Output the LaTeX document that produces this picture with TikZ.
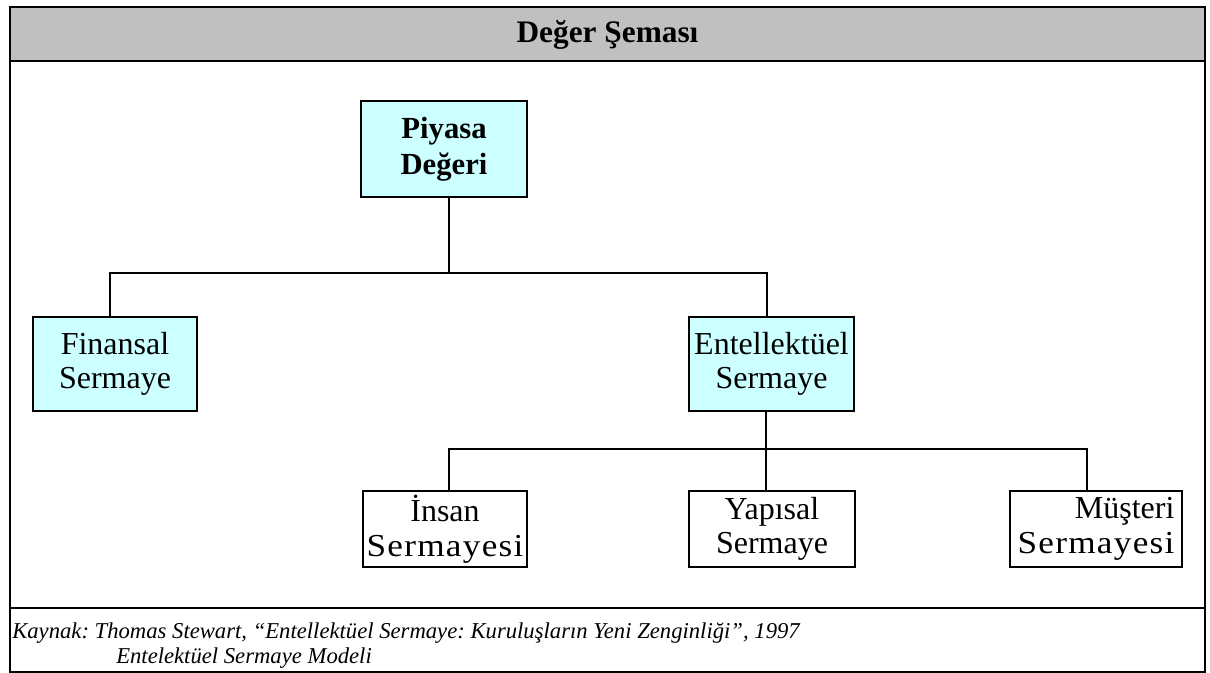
\documentclass[tikz,border=0pt]{standalone}
\usepackage{fontspec}
\usepackage{graphicx}
\setmainfont{Liberation Serif}
\frenchspacing
\definecolor{boxcyan}{HTML}{CCFFFF}
\definecolor{titlegray}{HTML}{C0C0C0}
\newcommand\spreadsermayesi{\scalebox{1.1}[1]{\makebox[107pt][s]{S\hfil e\hfil r\hfil m\hfil a\hfil y\hfil e\hfil s\hfil i}}}
\tikzset{
  frameline/.style={line width=2.2pt},
  thinframe/.style={line width=0.9pt},
  conn/.style={line width=1pt},
  boxbase/.style={draw, line width=2.2pt, inner sep=0pt, align=center,
    font=\fontsize{24}{26}\selectfont},
  cyanbox/.style={boxbase, fill=boxcyan},
  whitebox/.style={boxbase, fill=white},
}
\begin{document}
\begin{tikzpicture}[x=0.75pt,y=-0.75pt]
\useasboundingbox (0,0) rectangle (1210,673);
% caption area
\draw[thinframe] (10,608) rectangle (1205,672);
\draw[line width=1.6pt] (10,608) -- (10,672);
% main frame
\fill[titlegray] (10,7) rectangle (1205,61);
\draw[frameline] (10,7) rectangle (1205,608);
\draw[frameline] (10,61) -- (1205,61);
\node[font=\bfseries\fontsize{23.5}{26}\selectfont] (title) at (607.5,35) {Değer Şeması};
% boxes
\node[cyanbox, minimum width=166*0.75pt, minimum height=96*0.75pt,
  font=\bfseries\fontsize{23}{27}\selectfont] (piyasa) at (444,149) {Piyasa\\Değeri};
\node[cyanbox, minimum width=164*0.75pt, minimum height=94*0.75pt] (fin) at (115,364) {Finansal\\Sermaye};
\node[cyanbox, minimum width=165*0.75pt, minimum height=94*0.75pt] (ent) at (771.5,364) {Entellektüel\\Sermaye};
\node[whitebox, minimum width=164*0.75pt, minimum height=76*0.75pt] (ins) at (445,529) {İnsan\\\spreadsermayesi};
\node[whitebox, minimum width=166*0.75pt, minimum height=76*0.75pt] (yap) at (772,529) {Yapısal\\Sermaye};
\node[whitebox, minimum width=172*0.75pt, minimum height=76*0.75pt, align=right] (mus) at (1096,529) {Müşteri\\\spreadsermayesi};
% connectors
\coordinate (p1) at (449,273);
\coordinate (h1l) at (110,273);
\coordinate (h1r) at (767,273);
\draw[conn] (piyasa.south -| p1) -- (p1);
\draw[conn] (fin.north -| h1l) -- (h1l) -- (h1r) -- (ent.north -| h1r);
\coordinate (h2l) at (449,449);
\coordinate (h2m) at (766,449);
\coordinate (h2r) at (1087,449);
\draw[conn] (ent.south -| h2m) -- (h2m) -- (yap.north -| h2m);
\draw[conn] (ins.north -| h2l) -- (h2l) -- (h2r) -- (mus.north -| h2r);
% caption
\node[anchor=base west, inner sep=0pt, font=\itshape\fontsize{17}{20}\selectfont] (cap1) at (12,638)
  {Kaynak: Thomas Stewart, “Entellektüel Sermaye: Kuruluşların Yeni Zenginliği”, 1997};
\node[anchor=base west, inner sep=0pt, font=\itshape\fontsize{17}{20}\selectfont] (cap2) at (116,663)
  {Entelektüel Sermaye Modeli};
\end{tikzpicture}
\end{document}
